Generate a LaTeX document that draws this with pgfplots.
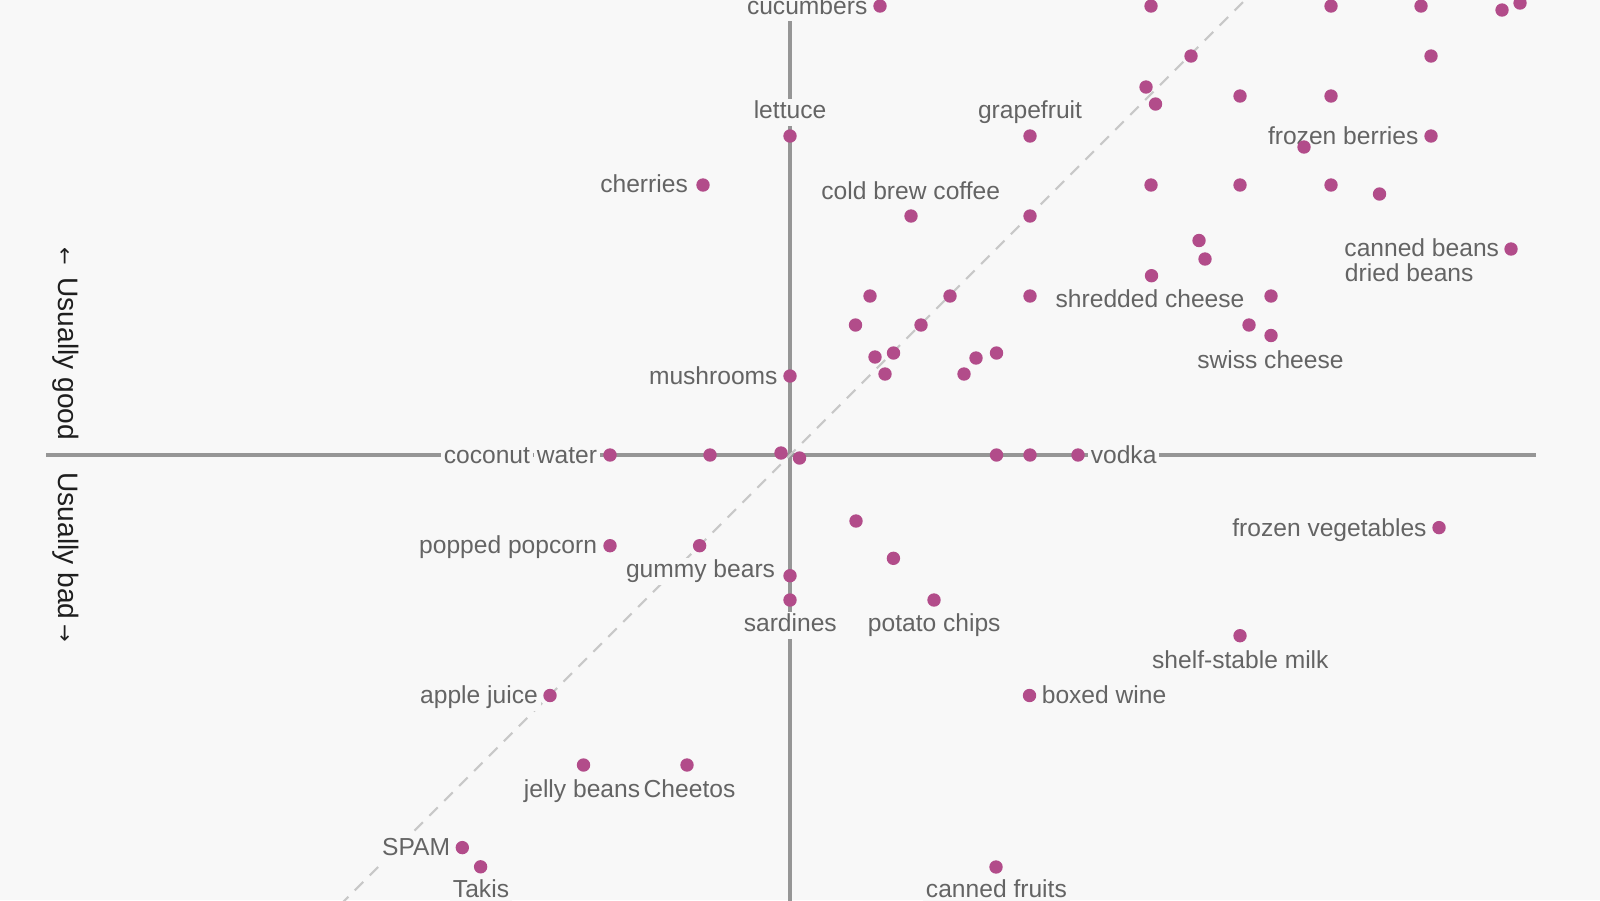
\documentclass[border=0pt]{standalone}
\usepackage{fontspec}
\setmainfont{Liberation Sans}
\newfontfamily\arrowfont{DejaVu Sans}
\usepackage{pgfplots}
\pgfplotsset{compat=1.18}

\definecolor{bg}{RGB}{248,248,248}
\definecolor{dotc}{RGB}{178,76,138}
\definecolor{lbl}{RGB}{100,100,100}
\definecolor{axln}{RGB}{150,150,150}
\definecolor{diag}{RGB}{200,200,200}
\definecolor{ttl}{RGB}{30,30,30}

% labels sit on a patch of background, as the halo in the original does
\tikzset{
  lab/.style={font=\fontsize{7}{8}\selectfont, text=lbl, fill=bg,
    inner xsep=0.8pt, inner ysep=0.6pt, outer sep=0pt,
    text height=5pt, text depth=1.5pt, yshift=-0.8pt},
  labE/.style={lab, anchor=east, xshift=0.8pt},
  labW/.style={lab, anchor=west, xshift=-0.8pt}
}

\begin{document}
\begin{tikzpicture}
\fill[bg] (0,0) rectangle (16cm,9cm);
\begin{axis}[
  at={(0,0)}, anchor=south west,
  width=16cm, height=9cm, scale only axis,
  xmin=-790, xmax=810, ymin=-445, ymax=455,
  hide axis, clip=true
]
% quadrant lines and the diagonal
\draw[axln, line width=0.9pt] (-744,0) -- (746,0);
\draw[axln, line width=0.9pt] (0,440) -- (0,-470);
\draw[diag, line width=0.6pt, dash pattern=on 3.4pt off 2.6pt] (-480,-480) -- (480,480);
% titles
\node[rotate=-90, anchor=east, text=ttl, inner sep=0pt, font=\fontsize{8}{9}\selectfont]
  at (-724.5,14.2) {{\arrowfont\fontsize{6}{6}\selectfont ←}\, Usually good};
\node[rotate=-90, anchor=west, text=ttl, inner sep=0pt, font=\fontsize{8}{9}\selectfont]
  at (-724.5,-16.7) {Usually bad\,{\arrowfont\fontsize{6}{6}\selectfont →}};
% labels
\node[labE] at (77.3,449.9) {cucumbers};
\node[lab] at (0,345.8) {lettuce};
\node[lab] at (240,345.8) {grapefruit};
\node[labE] at (628.4,319.3) {frozen berries};
\node[labE] at (-102.2,271.3) {cherries};
\node[lab] at (120.7,264.2) {cold brew coffee};
\node[labE] at (709,207) {canned beans};
\node[labW] at (554.9,182.6) {dried beans};
\node[lab] at (360,156) {shredded cheese};
\node[lab] at (480.4,95.8) {swiss cheese};
\node[labE] at (-12.5,79.5) {mushrooms};
% the axis shows through the gap between the two words
\node[labE] at (-193,0) {water};
\node[labE] at (-260,0) {coconut};
\node[labW] at (300.8,0) {vodka};
\node[labE] at (636.5,-72.5) {frozen vegetables};
\node[labE] at (-193,-89.9) {popped popcorn};
\node[lab] at (-89.5,-113.4) {gummy bears};
\node[lab] at (0.3,-167.4) {sardines};
\node[lab] at (144.2,-167.4) {potato chips};
\node[lab] at (450.3,-204.2) {shelf-stable milk};
\node[labE] at (-252.2,-239.9) {apple juice};
\node[labW] at (251.8,-239.9) {boxed wine};
\node[lab, inner xsep=0.1pt] at (-208,-333.8) {jelly beans};
\node[lab, inner xsep=0.1pt] at (-100.5,-333.8) {Cheetos};
\node[labE] at (-340,-392) {SPAM};
\node[lab] at (-309,-433.8) {Takis};
\node[lab] at (206.4,-433.8) {canned fruits};
% foods
\addplot[only marks, mark=*, mark size=1.7pt, color=dotc] coordinates {
  (90,449) (361,449) (541,449) (590,456) (631,449) (712,445) (730,452)
  (401,399) (641,399)
  (356,368) (365.5,351) (450,359) (541,359)
  (0,319) (240,319) (641,319) (514,308)
  (-87,270) (361,270) (450,270) (541,270) (589.5,261)
  (121,239) (240,239)
  (409,214.5) (415,196) (721,206) (361.5,179.3)
  (80,159) (160,159) (240,159) (481,159)
  (65.5,130) (131,130) (459,130) (481,119.5)
  (85,98) (103.5,102) (95,81) (174,81) (186,97) (206.5,102) (0,79)
  (-180,0) (-80,0) (-9,2) (9.5,-3) (206.5,0) (240,0) (288,0)
  (66,-66) (649,-72.6) (-180,-90.7) (-90.4,-90.7) (103.4,-103.3)
  (0,-120.7) (0,-145) (144,-145) (450,-180.7)
  (-240,-240.5) (239.5,-240.5) (-206.5,-310) (-103,-310)
  (-327.7,-392.6) (-309.4,-411.8) (206,-412)};
\end{axis}
\pgfresetboundingbox
\path (0,0) rectangle (16cm,9cm);
\end{tikzpicture}
\end{document}
